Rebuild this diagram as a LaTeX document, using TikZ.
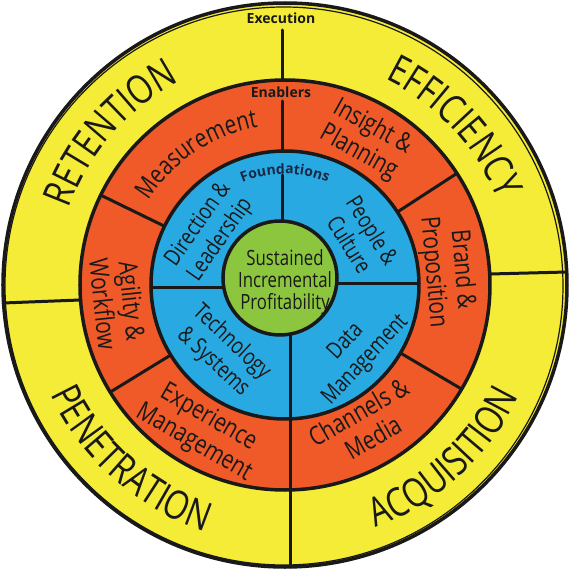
\documentclass[tikz,border=0pt]{standalone}
\usepackage{fontspec}
\setmainfont{Open Sans}
\newfontfamily\handfont{Open Sans}[FakeStretch=0.8]
\usetikzlibrary{decorations.text}

\definecolor{execyellow}{RGB}{245,236,55}
\definecolor{enableorange}{RGB}{239,90,40}
\definecolor{foundblue}{RGB}{41,169,225}
\definecolor{coregreen}{RGB}{140,198,63}
\definecolor{inkblack}{RGB}{25,25,25}
\definecolor{inknavy}{RGB}{25,40,70}

\newcommand\bigword{\handfont\fontsize{40}{40}\selectfont}
\newcommand\enablerfont{\handfont\fontsize{26}{29}\selectfont}
\newcommand\foundfont{\handfont\fontsize{23}{27}\selectfont}
\newcommand\corefont{\handfont\fontsize{21}{22}\selectfont}
\newcommand\tierfont{\bfseries\fontsize{14}{14}\selectfont}

\tikzset{
  ring edge/.style={draw=inkblack, line width=3.5pt},
  divider/.style={draw=inkblack, line width=3pt, line cap=round},
  arc word/.style={decorate, decoration={text along path, text align=center, text color=inkblack}},
  enabler/.style={font=\enablerfont, text=inkblack, align=center, inner sep=0pt},
  foundation/.style={font=\foundfont, text=inkblack, align=center, inner sep=0pt},
}

\begin{document}
\begin{tikzpicture}[x=1pt, y=1pt]
  \useasboundingbox (-285,-286) rectangle (285,285);

  % rings
  \fill[execyellow]   (0,0) circle (282);
  \fill[enableorange] (0,0) circle (205);
  \fill[foundblue]    (0,0) circle (134);
  \fill[coregreen]    (-5,7) circle (57);

  % dividers
  \draw[divider] (-2,255) -- (-2,205);
  \draw[divider] (-2,184) -- (-2,134);
  \draw[divider] (-2,110) -- (-2,64);
  \draw[divider] (6,-49) -- (6,-282);
  \draw[divider] (-205,-15) -- (-282,-18);
  \draw[divider] (205,11) -- (282,13);
  \draw[divider] (-134,-2) -- (-62,-2);
  \draw[divider] (52,2) -- (134,2);
  \foreach \a in {154,33,-30.5,211.5}
    \draw[divider] (\a:134) -- (\a:205);

  % ring outlines
  \draw[ring edge] (0,0) circle (282);
  \draw[draw=inkblack, line width=1.2pt] (-1,-1) circle (279);
  \draw[ring edge] (0,0) circle (205);
  \draw[ring edge] (0,0) circle (134);
  \draw[ring edge] (-5,7) circle (57);

  % tier labels
  \node[font=\tierfont, text=inkblack] (execution) at (-4,267) {Execution};
  \node[font=\tierfont, text=inkblack] (enablers) at (-4,193) {Enablers};
  \path[arc word, decoration={text color=inknavy, text={|\tierfont|Foundations}}]
    (125:111) arc[start angle=125, end angle=55, radius=111];

  % execution
  \path[arc word, decoration={text={|\bigword|RETENTION}}]
    (170:229) arc[start angle=170, end angle=108, radius=229];
  \path[arc word, decoration={text={|\bigword|EFFICIENCY}}]
    (76:229) arc[start angle=76, end angle=10, radius=229];
  \path[arc word, decoration={text={|\bigword|PENETRATION}}]
    (195:259) arc[start angle=195, end angle=262, radius=259];
  \path[arc word, decoration={text={|\bigword|ACQUISITION}}]
    (280:259) arc[start angle=280, end angle=345, radius=259];

  % enablers
  \path[arc word, decoration={text={|\enablerfont|Measurement}}]
    (155:160) arc[start angle=155, end angle=93, radius=160];
  \node[enabler, rotate=-29] (insight)    at (61:166)  {Insight \&\\Planning};
  \node[enabler, rotate=-85] (brand)      at (5:163)   {Brand \&\\Proposition};
  \node[enabler, rotate=30]  (channels)   at (-60:161) {Channels \&\\Media};
  \node[enabler, rotate=-30] (experience) at (240:168) {Experience\\Management};
  \node[enabler, rotate=-84] (agility)    at (186:168) {Agility \&\\Workflow};

  % foundations
  \node[foundation, rotate=55]  (direction)  at (145:92) {Direction \&\\Leadership};
  \node[foundation, rotate=-58] (people)     at (32:90)  {People \&\\Culture};
  \node[foundation, rotate=-43] (technology) at (227:92) {Technology\\\& Systems};
  \node[foundation, rotate=47]  (data)       at (-43:97) {Data\\Management};

  % core
  \node[font=\corefont, text=inkblack, align=center, inner sep=0pt] (profit) at (0,3)
    {Sustained\\Incremental\\Profitability};
\end{tikzpicture}
\end{document}
